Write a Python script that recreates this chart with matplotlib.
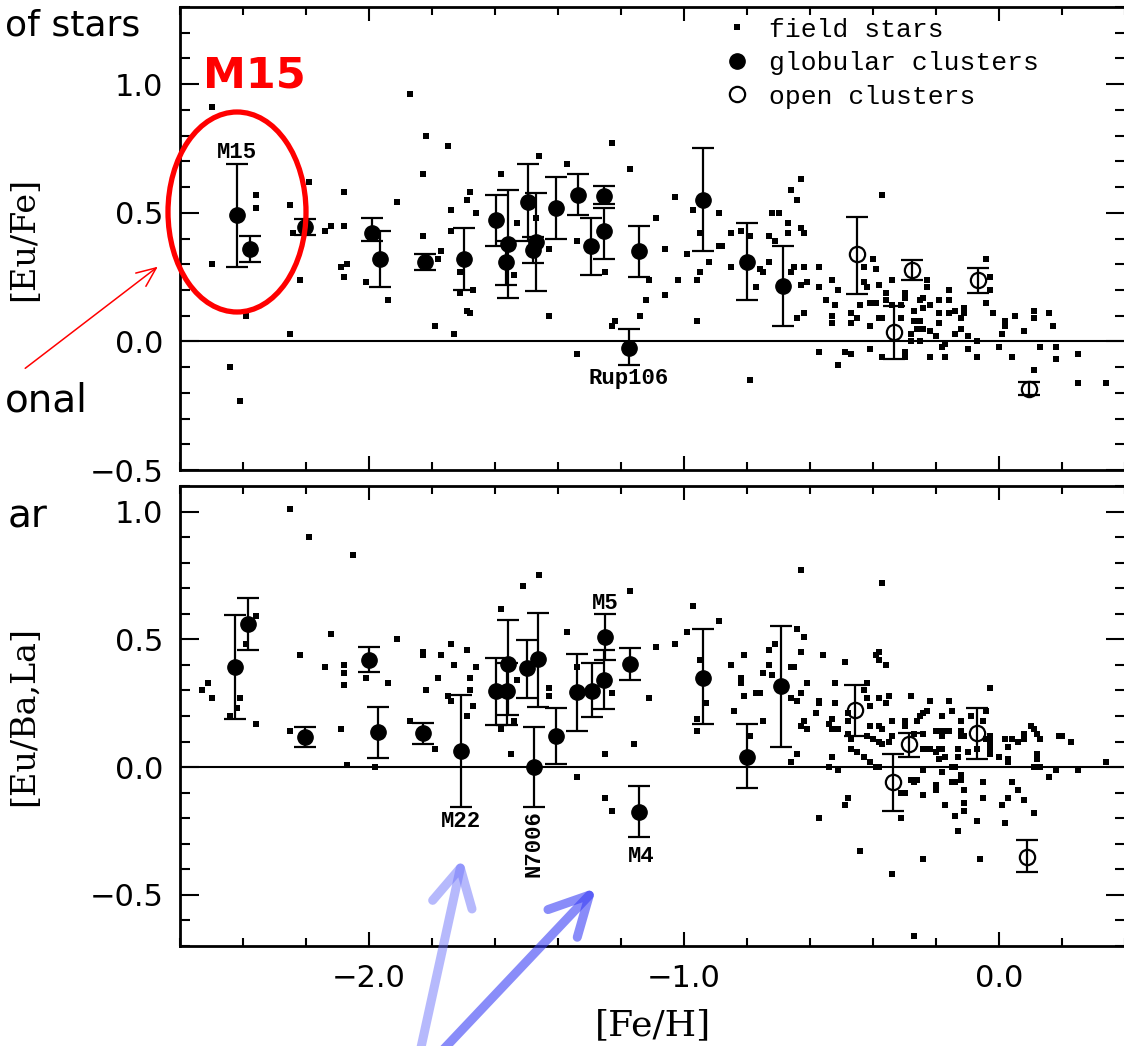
import matplotlib
matplotlib.use("Agg")
import matplotlib.pyplot as plt
from matplotlib.ticker import MultipleLocator, FuncFormatter
from matplotlib.patches import Ellipse, FancyArrowPatch

# ---------------- data: upper panel [Eu/Fe] ----------------
top_field_x = [-2.50, -2.36, -2.36, -2.50, -2.39, -2.44, -2.41, -2.19, -2.25, -2.24, -2.22, -2.25,
               -2.14, -2.12, -2.08, -2.08, -2.09, -2.07, -2.08, -2.01, -1.94, -1.91, -1.87, -1.82,
               -1.83, -1.83, -1.75, -1.77, -1.78, -1.79, -1.73, -1.74, -1.74, -1.68, -1.69, -1.66,
               -1.71, -1.71, -1.67, -1.69, -1.68, -1.58, -1.53, -1.54, -1.46, -1.47, -1.43, -1.43,
               -1.37, -1.34, -1.25, -1.34, -1.23, -1.17, -1.23, -1.22, -1.14, -1.12, -1.11, -1.09,
               -1.06, -1.06, -1.02, -1.03, -0.99, -0.97, -0.96, -0.95, -0.96, -0.95, -0.92, -0.89,
               -0.89, -0.88, -0.85, -0.85, -0.82, -0.79, -0.79, -0.77, -0.76, -0.75, -0.72, -0.73,
               -0.73, -0.71, -0.63, -0.66, -0.64, -0.70, -0.67, -0.67, -0.63, -0.62, -0.37, -0.65,
               -0.62, -0.66, -0.57, -0.63, -0.61, -0.57, -0.53, -0.62, -0.64, -0.55, -0.51, -0.52,
               -0.53, -0.53, -0.47, -0.47, -0.45, -0.44, -0.43, -0.40, -0.39, -0.43, -0.42, -0.41,
               -0.39, -0.41, -0.38, -0.38, -0.37, -0.36, -0.36, -0.34, -0.34, -0.31, -0.31, -0.30,
               -0.30, -0.28, -0.27, -0.27, -0.25, -0.24, -0.26, -0.24, -0.25, -0.23, -0.23, -0.24,
               -0.22, -0.22, -0.20, -0.19, -0.19, -0.19, -0.18, -0.17, -0.16, -0.16, -0.16, -0.14,
               -0.14, -0.12, -0.12, -0.11, -0.11, -0.10, -0.10, -0.07, -0.04, -0.03, -0.03, -0.04,
               -0.02, 0.00, 0.01, 0.02, 0.02, 0.05, 0.04, 0.08, 0.11, 0.11, 0.11, 0.13, 0.16, 0.17,
               0.18, 0.18, 0.25, 0.25, 0.34, -0.57, -0.51, -0.49, -0.47, -0.41, -0.37, -0.30, -0.30,
               -0.22, -0.17, -0.10, -0.07, -0.28, -0.25]
top_field_y = [0.91, 0.57, 0.52, 0.30, 0.10, -0.10, -0.23, 0.62, 0.53, 0.42, 0.24, 0.03,
               0.43, 0.45, 0.58, 0.45, 0.29, 0.30, 0.25, 0.23, 0.16, 0.54, 0.96, 0.80,
               0.65, 0.41, 0.76, 0.35, 0.32, 0.06, 0.03, 0.51, 0.43, 0.58, 0.55, 0.50,
               0.27, 0.19, 0.20, 0.12, 0.11, 0.65, 0.46, 0.26, 0.72, 0.48, 0.36, 0.10,
               0.69, 0.39, 0.27, -0.05, 0.77, 0.67, 0.06, 0.08, 0.10, 0.16, 0.24, 0.48,
               0.36, 0.18, 0.24, 0.56, 0.34, 0.51, 0.24, 0.27, 0.08, 0.42, 0.31, 0.50,
               0.37, 0.37, 0.42, 0.29, 0.43, -0.15, 0.41, 0.21, 0.28, 0.27, 0.50, 0.41,
               0.31, 0.39, 0.63, 0.59, 0.55, 0.50, 0.46, 0.42, 0.44, 0.42, 0.57, 0.29,
               0.29, 0.27, 0.29, 0.22, 0.23, 0.21, 0.24, 0.11, 0.09, 0.16, 0.20, 0.14,
               0.10, 0.07, 0.11, 0.07, 0.09, 0.14, 0.29, 0.32, 0.28, 0.23, 0.21, 0.15,
               0.15, 0.06, 0.22, 0.09, 0.09, 0.19, 0.16, 0.24, 0.14, 0.14, 0.09, 0.17,
               0.19, 0.03, 0.12, 0.08, 0.16, 0.17, 0.05, 0.05, 0.00, 0.24, 0.21, 0.13,
               0.14, 0.04, 0.02, 0.16, 0.11, 0.07, -0.02, -0.01, 0.16, 0.20, 0.11, 0.03,
               0.12, 0.09, 0.05, 0.13, 0.11, 0.02, -0.03, 0.00, 0.32, 0.25, 0.20, 0.15,
               0.11, -0.02, 0.03, 0.08, 0.06, 0.10, -0.06, 0.04, 0.12, 0.09, -0.11, -0.02, 0.11, 0.06,
               -0.02, -0.07, -0.05, -0.16, -0.16, -0.04, -0.09, -0.04, -0.05, -0.03, -0.06, -0.04, -0.06,
               -0.06, -0.06, -0.03, -0.06, 0.00, 0.08]

top_gc_x = [-2.419, -2.378, -2.203, -1.99, -1.965, -1.822, -1.70, -1.597, -1.559, -1.565, -1.495,
            -1.47, -1.478, -1.406, -1.337, -1.295, -1.254, -1.254, -1.143, -1.175, -0.94, -0.80, -0.686]
top_gc_y = [0.49, 0.36, 0.445, 0.42, 0.32, 0.308, 0.32, 0.47, 0.38, 0.31, 0.54,
            0.385, 0.355, 0.52, 0.57, 0.37, 0.566, 0.43, 0.35, -0.025, 0.55, 0.31, 0.214]
top_gc_lo = [0.20, 0.05, 0.03, 0.03, 0.11, 0.03, 0.12, 0.10, 0.21, 0.09, 0.15,
             0.19, 0.05, 0.12, 0.08, 0.11, 0.03, 0.11, 0.10, 0.065, 0.20, 0.15, 0.156]
top_gc_hi = [0.20, 0.05, 0.03, 0.06, 0.11, 0.03, 0.12, 0.10, 0.21, 0.08, 0.15,
             0.19, 0.05, 0.12, 0.08, 0.11, 0.04, 0.09, 0.10, 0.075, 0.20, 0.15, 0.156]

top_oc_x = [-0.451, -0.276, -0.333, -0.067, 0.095]
top_oc_y = [0.339, 0.277, 0.038, 0.238, -0.184]
top_oc_lo = [0.156, 0.04, 0.105, 0.05, 0.025]
top_oc_hi = [0.145, 0.04, 0.098, 0.047, 0.025]

top_labels = ["M15", "Rup106"]
top_label_x = [-2.419, -1.175]
top_label_y = [0.735, -0.145]

# ---------------- data: lower panel [Eu/Ba,La] ----------------
bot_field_x = [-2.25, -2.19, -2.05, -2.53, -2.51, -2.50, -2.44, -2.42, -2.41, -2.36, -2.39, -2.36,
               -2.25, -2.22, -2.14, -2.12, -2.08, -2.08, -2.08, -2.09, -2.07, -2.01, -1.94, -1.91,
               -1.98, -1.87, -1.83, -1.83, -1.82, -1.79, -1.78, -1.77, -1.74, -1.73, -1.69, -1.68,
               -1.66, -1.68, -1.67, -1.69, -1.75, -1.74, -1.46, -1.51, -1.58, -1.53, -1.54, -1.58,
               -1.55, -1.43, -1.43, -1.37, -1.34, -1.34, -1.25, -1.25, -1.23, -1.23, -1.17, -1.16,
               -1.11, -1.09, -1.03, -0.99, -0.97, -0.89, -0.95, -0.93, -0.96, -0.96, -0.85, -0.82,
               -0.82, -0.81, -0.81, -0.84, -0.79, -0.77, -0.76, -0.75, -0.75, -0.73, -0.73, -0.72,
               -0.71, -0.63, -0.37, -0.64, -0.62, -0.63, -0.56, -0.66, -0.65, -0.61, -0.63, -0.66,
               -0.64, -0.57, -0.57, -0.58, -0.62, -0.63, -0.61, -0.64, -0.66, -0.52, -0.49, -0.52,
               -0.53, -0.54, -0.53, -0.51, -0.53, -0.51, -0.54, -0.39, -0.38, -0.38, -0.36, -0.42,
               -0.43, -0.42, -0.41, -0.38, -0.36, -0.35, -0.48, -0.48, -0.48, -0.47, -0.47, -0.45,
               -0.43, -0.41, -0.39, -0.38, -0.41, -0.38, -0.37, -0.42, -0.40, -0.38, -0.37, -0.35,
               -0.34, -0.34, -0.30, -0.30, -0.28, -0.26, -0.27, -0.24, -0.25, -0.24, -0.23, -0.22,
               -0.24, -0.23, -0.22, -0.20, -0.19, -0.18, -0.20, -0.18, -0.17, -0.16, -0.18, -0.18,
               -0.16, -0.15, -0.17, -0.19, -0.24, -0.24, -0.18, -0.15, -0.14, -0.12, -0.12, -0.13,
               -0.13, -0.12, -0.11, -0.10, -0.09, -0.07, -0.05, -0.04, -0.04, -0.03, -0.03, -0.03,
               -0.03, -0.03, -0.03, 0.02, 0.03, 0.04, 0.06, 0.08, 0.08, 0.10, 0.11, 0.12, 0.13,
               0.00, 0.03, 0.03, 0.12, 0.12, 0.11, 0.13, 0.19, 0.20, 0.23, 0.18, 0.25, 0.16, 0.34,
               -0.28, -0.27, -0.26, -0.30, -0.31, -0.24, -0.20, -0.20, -0.15, -0.14, -0.12, -0.12,
               -0.11, -0.17, -0.14, -0.11, -0.11, -0.13, -0.07, -0.05, -0.05, 0.01, 0.02, 0.04,
               0.06, 0.03, 0.08, 0.11, -0.48, -0.49, -0.57, -0.31, -0.44, -0.34, -0.24, -0.06, -0.27]
bot_field_y = [1.01, 0.90, 0.83, 0.30, 0.33, 0.27, 0.20, 0.23, 0.27, 0.59, 0.48, 0.17,
               0.14, 0.44, 0.39, 0.52, 0.40, 0.37, 0.32, 0.15, 0.01, 0.35, 0.33, 0.50,
               0.00, 0.18, 0.45, 0.44, 0.30, 0.07, 0.35, 0.44, 0.48, 0.40, 0.46, 0.35,
               0.39, 0.30, 0.24, 0.20, 0.28, 0.26, 0.75, 0.71, 0.62, 0.34, 0.18, 0.15,
               0.05, 0.31, 0.28, 0.53, 0.39, -0.04, 0.05, -0.12, -0.17, 0.29, 0.69, 0.09,
               0.27, 0.47, 0.48, 0.53, 0.63, 0.57, 0.42, 0.25, 0.19, 0.14, 0.40, 0.35,
               0.33, 0.44, 0.28, 0.22, 0.12, 0.29, 0.29, 0.37, 0.18, 0.46, 0.40, 0.36,
               0.48, 0.77, 0.72, 0.54, 0.51, 0.45, 0.44, 0.39, 0.39, 0.33, 0.29, 0.27,
               0.26, 0.26, 0.25, 0.21, 0.18, 0.16, 0.15, 0.05, 0.02, 0.33, 0.41, 0.25,
               0.19, 0.17, 0.15, 0.15, 0.04, -0.01, 0.00, 0.44, 0.45, 0.42, 0.40, 0.33,
               0.30, 0.27, 0.24, 0.27, 0.25, 0.28, 0.21, 0.18, 0.13, 0.11, 0.07, 0.06,
               0.04, 0.02, 0.00, 0.00, 0.16, 0.16, 0.15, 0.12, 0.11, 0.10, 0.09, 0.10,
               0.12, 0.18, 0.16, 0.18, 0.28, 0.18, 0.13, 0.13, 0.20, 0.21, 0.22, 0.26,
               0.07, 0.07, 0.07, 0.06, 0.07, 0.07, 0.14, 0.14, 0.14, 0.14, 0.12, 0.20,
               0.26, 0.22, 0.04, 0.03, -0.01, -0.01, -0.02, 0.00, 0.00, 0.18, 0.12, 0.07,
               0.04, 0.14, 0.12, 0.06, 0.20, 0.07, 0.18, 0.22, 0.11, 0.09, 0.07, 0.05,
               0.12, 0.11, 0.31, 0.11, 0.08, 0.11, 0.10, 0.11, 0.13, 0.16, 0.15, 0.13, 0.11,
               0.04, 0.03, 0.02, 0.05, 0.03, 0.00, 0.00, 0.12, 0.12, 0.10, -0.01, -0.01, -0.04, 0.02,
               -0.05, -0.06, -0.05, -0.10, -0.10, -0.11, -0.07, -0.09, -0.06, -0.06, -0.05, -0.03,
               -0.09, -0.15, -0.19, -0.14, -0.17, -0.25, -0.21, -0.06, -0.12, -0.15, -0.22, -0.06,
               -0.09, -0.12, -0.13, -0.18, -0.12, -0.15, -0.20, -0.20, -0.33, -0.42, -0.36, -0.36, -0.66]

bot_gc_x = [-2.425, -2.384, -2.203, -2.0, -1.971, -1.829, -1.708, -1.597, -1.559, -1.562, -1.498,
            -1.463, -1.476, -1.406, -1.34, -1.292, -1.251, -1.254, -1.171, -1.143, -0.94, -0.80, -0.692]
bot_gc_y = [0.393, 0.56, 0.117, 0.42, 0.136, 0.132, 0.062, 0.296, 0.405, 0.296, 0.389,
            0.424, 0.0, 0.121, 0.292, 0.296, 0.51, 0.342, 0.405, -0.175, 0.35, 0.039, 0.319]
bot_gc_lo = [0.206, 0.10, 0.04, 0.046, 0.10, 0.04, 0.22, 0.13, 0.20, 0.13, 0.12,
             0.19, 0.156, 0.11, 0.15, 0.10, 0.09, 0.116, 0.066, 0.10, 0.18, 0.12, 0.24]
bot_gc_hi = [0.202, 0.10, 0.04, 0.05, 0.10, 0.04, 0.22, 0.13, 0.17, 0.11, 0.11,
             0.18, 0.156, 0.11, 0.15, 0.11, 0.09, 0.118, 0.062, 0.10, 0.19, 0.13, 0.234]

bot_oc_x = [-0.457, -0.286, -0.337, -0.07, 0.089]
bot_oc_y = [0.222, 0.089, -0.058, 0.132, -0.35]
bot_oc_lo = [0.10, 0.05, 0.113, 0.10, 0.062]
bot_oc_hi = [0.10, 0.045, 0.108, 0.10, 0.066]

bot_labels = ["M22", "N7006", "M5", "M4"]
bot_label_x = [-1.708, -1.476, -1.251, -1.137]
bot_label_y = [-0.214, -0.30, 0.642, -0.35]
bot_label_rot = [0, 90, 0, 0]

legend_labels = ["field stars", "globular clusters", "open clusters"]

# ---------------- figure ----------------
W, H = 1124, 1046
fig = plt.figure(figsize=(W / 100, H / 100), dpi=100)
ax1 = fig.add_axes([180 / W, 1 - 470 / H, 945 / W, 463 / H])
ax2 = fig.add_axes([180 / W, 1 - 946 / H, 945 / W, 460 / H])

mono = "Liberation Mono"
tickfont = "DejaVu Sans"
labfont = "DejaVu Serif"


def fmt(v, pos):
    s = f"{v:.1f}"
    if s == "-0.0":
        s = "0.0"
    return s.replace("-", "\u2212")


def style_axes(ax, ylim, show_x):
    ax.set_xlim(-2.6, 0.4)
    ax.set_ylim(*ylim)
    ax.xaxis.set_major_locator(MultipleLocator(1.0))
    ax.xaxis.set_minor_locator(MultipleLocator(0.2))
    ax.yaxis.set_major_locator(MultipleLocator(0.5))
    ax.yaxis.set_minor_locator(MultipleLocator(0.1))
    ax.xaxis.set_major_formatter(FuncFormatter(fmt))
    ax.yaxis.set_major_formatter(FuncFormatter(fmt))
    ax.tick_params(axis="both", which="both", direction="in", top=True, right=True,
                   width=1.5, colors="black")
    ax.tick_params(axis="y", which="major", length=14, labelsize=22, pad=12)
    ax.tick_params(axis="y", which="minor", length=7)
    ax.tick_params(axis="x", which="major", length=10, labelsize=22, pad=13,
                   labelbottom=show_x)
    ax.tick_params(axis="x", which="minor", length=6)
    for lab in ax.get_xticklabels() + ax.get_yticklabels():
        lab.set_fontfamily(tickfont)
    for sp in ax.spines.values():
        sp.set_linewidth(2.0)
    ax.axhline(0.0, color="black", lw=1.5, zorder=1)


def draw_panel(ax, fx, fy, gx, gy, glo, ghi, ox, oy, olo, ohi):
    hf, = ax.plot(fx, fy, ls="none", marker="s", ms=3.8, mew=0, color="black", zorder=2)
    ax.errorbar(gx, gy, yerr=[glo, ghi], fmt="none", ecolor="black", elinewidth=1.6,
                capsize=8, capthick=1.6, zorder=3)
    hg, = ax.plot(gx, gy, ls="none", marker="o", ms=11, mfc="black", mec="black", zorder=4)
    ax.errorbar(ox, oy, yerr=[olo, ohi], fmt="none", ecolor="black", elinewidth=1.6,
                capsize=8, capthick=1.6, zorder=3)
    ho, = ax.plot(ox, oy, ls="none", marker="o", ms=11, mfc="none", mec="black",
                  mew=1.6, zorder=4)
    return hf, hg, ho


hf, hg, ho = draw_panel(ax1, top_field_x, top_field_y, top_gc_x, top_gc_y, top_gc_lo, top_gc_hi,
                        top_oc_x, top_oc_y, top_oc_lo, top_oc_hi)
draw_panel(ax2, bot_field_x, bot_field_y, bot_gc_x, bot_gc_y, bot_gc_lo, bot_gc_hi,
           bot_oc_x, bot_oc_y, bot_oc_lo, bot_oc_hi)

style_axes(ax1, (-0.5, 1.3), False)
style_axes(ax2, (-0.7, 1.1), True)

for t, x, y in zip(top_labels, top_label_x, top_label_y):
    ax1.text(x, y, t, ha="center", va="center", fontsize=16, family=mono, weight="bold")
for t, x, y, r in zip(bot_labels, bot_label_x, bot_label_y, bot_label_rot):
    ax2.text(x, y, t, ha="center", va="center", fontsize=16, family=mono, weight="bold",
             rotation=r)

ax1.set_ylabel("[Eu/Fe]", fontsize=24, family=labfont)
ax1.yaxis.set_label_coords(-0.148, 0.5)
ax2.set_ylabel("[Eu/Ba,La]", fontsize=24, family=labfont)
ax2.yaxis.set_label_coords(-0.148, 0.5)
ax2.set_xlabel("[Fe/H]", fontsize=26, family=labfont)
ax2.xaxis.set_label_coords(0.5, -0.135)

leg = ax1.legend([hf, hg, ho], legend_labels, loc="upper left", bbox_to_anchor=(0.5757, 0.977),
                 frameon=False, prop={"family": mono, "size": 19}, handlelength=1.0,
                 handletextpad=0.7, labelspacing=0.36, borderpad=0.0, borderaxespad=0.0,
                 markerscale=1.0)

# ---------------- slide annotations ----------------
fig.text(140 / W, 1 - 35 / H, "of stars", ha="right", va="baseline", fontsize=26,
         family="DejaVu Sans")
fig.text(88 / W, 1 - 412 / H, "onal", ha="right", va="baseline", fontsize=28,
         family="DejaVu Sans")
fig.text(47 / W, 1 - 528 / H, "ar", ha="right", va="baseline", fontsize=28,
         family="DejaVu Sans")
fig.text(203 / W, 1 - 88 / H, "M15", ha="left", va="baseline", fontsize=31,
         family="DejaVu Sans", weight="bold", color="#ff0000")

fig.add_artist(Ellipse((237 / W, 1 - 212 / H), 138 / W, 200 / H, transform=fig.transFigure,
                       fill=False, ec="#ff0000", lw=3.8, zorder=10))
fig.add_artist(FancyArrowPatch((23 / W, 1 - 370 / H), (160 / W, 1 - 265 / H),
                               transform=fig.transFigure, color="#ff0000", lw=1.1,
                               arrowstyle="->,head_length=1.4,head_width=0.6",
                               mutation_scale=10, zorder=10))
fig.add_artist(FancyArrowPatch((420 / W, 1 - 1052 / H), (463 / W, 1 - 856 / H),
                               transform=fig.transFigure, color="#6f74fb", alpha=0.5, lw=6.5,
                               arrowstyle="->,head_length=2.7,head_width=1.45",
                               mutation_scale=10, capstyle="round", joinstyle="round",
                               zorder=10))
fig.add_artist(FancyArrowPatch((441 / W, 1 - 1052 / H), (598 / W, 1 - 886 / H),
                               transform=fig.transFigure, color="#3b40f5", alpha=0.6, lw=6.5,
                               arrowstyle="->,head_length=2.8,head_width=1.45",
                               mutation_scale=10, capstyle="round", joinstyle="round",
                               zorder=10))

fig.savefig("out.png", dpi=100)
